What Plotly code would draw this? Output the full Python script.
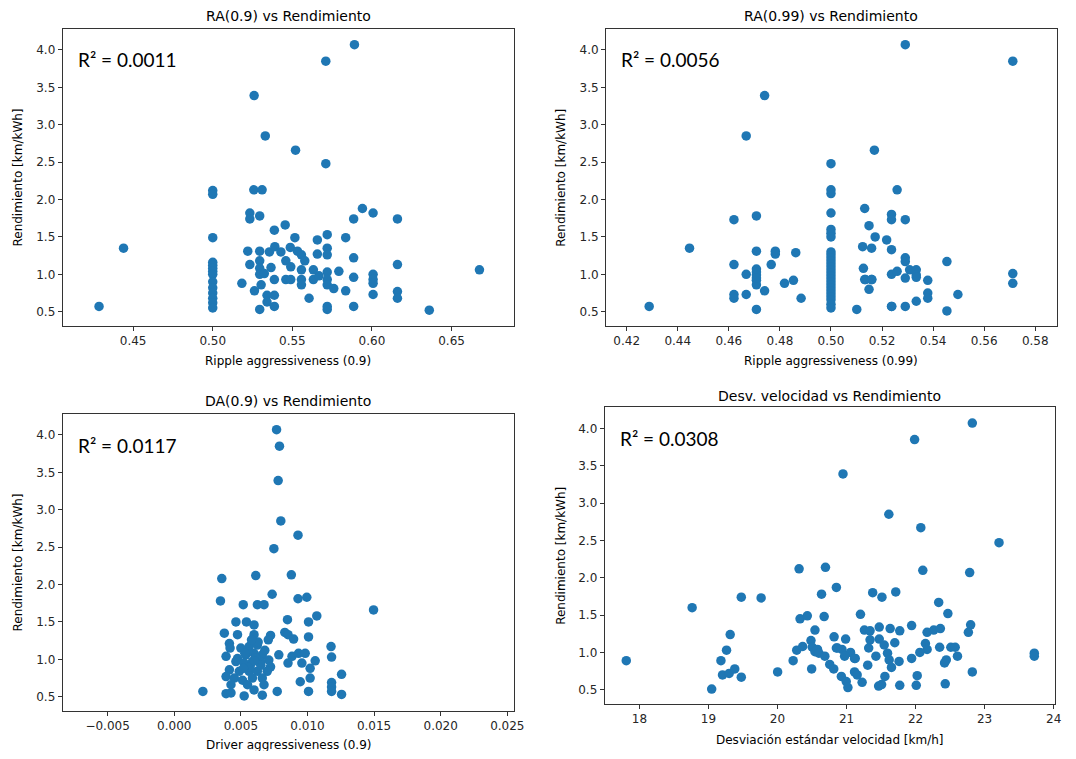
import plotly.graph_objects as go

PAGE_W, PAGE_H = 1076, 759
OFF = 8  # default body margin of the html page
W, H = PAGE_W - 2 * OFF, PAGE_H - 2 * OFF

# ---------------- data ----------------
ra09_x = [0.4286, 0.444,
          0.50, 0.50, 0.50, 0.50, 0.50, 0.50, 0.50, 0.50, 0.50, 0.50, 0.50, 0.50, 0.50, 0.50,
          0.589, 0.571, 0.526, 0.533, 0.552, 0.571, 0.6675, 0.636,
          0.5258, 0.531, 0.594, 0.6007, 0.5885, 0.616, 0.5233, 0.5233, 0.5295, 0.5387,
          0.5455, 0.5516, 0.5657, 0.5719, 0.5835, 0.522, 0.5295, 0.5356, 0.539, 0.5428,
          0.5487, 0.5532, 0.5557, 0.5657, 0.5719, 0.5719, 0.5885, 0.616, 0.5233, 0.5295,
          0.5295, 0.5366, 0.5459, 0.549, 0.5578, 0.5557, 0.5632, 0.5719, 0.5792, 0.5295,
          0.5324, 0.5387, 0.5459, 0.549, 0.5557, 0.5557, 0.5632, 0.5667, 0.5719, 0.5719,
          0.576, 0.5885, 0.6007, 0.6007, 0.6007, 0.5183, 0.5262, 0.5304, 0.5341, 0.5387,
          0.5341, 0.5387, 0.5295, 0.5605, 0.5719, 0.5719, 0.5835, 0.5885, 0.6007, 0.616,
          0.616]
ra09_y = [0.57, 1.35,
          2.12, 2.07, 1.49, 1.16, 1.12, 1.08, 1.04, 1.00, 0.90, 0.82, 0.75, 0.68, 0.62, 0.55,
          4.07, 3.85, 3.39, 2.85, 2.66, 2.48, 1.06, 0.52,
          2.13, 2.13, 1.88, 1.82, 1.74, 1.74, 1.82, 1.74, 1.78, 1.59,
          1.66, 1.49, 1.46, 1.53, 1.49, 1.31, 1.31, 1.30, 1.37, 1.30,
          1.36, 1.31, 1.26, 1.27, 1.35, 1.26, 1.22, 1.13, 1.13, 1.18,
          1.08, 1.09, 1.18, 1.10, 1.18, 1.06, 1.06, 1.03, 1.04, 1.00,
          1.01, 0.93, 0.93, 0.93, 0.93, 0.86, 0.93, 0.98, 0.93, 0.86,
          0.81, 0.96, 1.00, 0.93, 0.88, 0.88, 0.78, 0.86, 0.72, 0.72,
          0.63, 0.57, 0.53, 0.68, 0.57, 0.53, 0.78, 0.57, 0.73, 0.77,
          0.68]

ra099_x = [0.4288, 0.4446, 0.474, 0.4668, 0.462, 0.4708, 0.462, 0.4668, 0.4708, 0.4708,
           0.4708, 0.4708, 0.4708, 0.474, 0.4668, 0.462, 0.462, 0.4708, 0.4782, 0.4782,
           0.4766, 0.4818, 0.4853, 0.4862, 0.4883, 0.4708, 0.4708,
           0.50, 0.50, 0.50, 0.50, 0.50, 0.50, 0.50, 0.50, 0.50, 0.50, 0.50, 0.50, 0.50,
           0.50, 0.50, 0.50, 0.50, 0.50, 0.50, 0.50, 0.50, 0.50, 0.50, 0.50, 0.50, 0.50,
           0.5291, 0.5712, 0.517, 0.5259, 0.5132, 0.5149, 0.5173, 0.5237, 0.5237, 0.5291,
           0.5218, 0.5124, 0.5159, 0.5237, 0.5291, 0.5291, 0.5127, 0.5132, 0.5159, 0.5149,
           0.5237, 0.5259, 0.5308, 0.5334, 0.5334, 0.5334, 0.5291, 0.5379, 0.5379, 0.5379,
           0.5334, 0.5454, 0.5454, 0.5497, 0.5712, 0.5712, 0.5101, 0.5237, 0.5291, 0.5135,
           0.516, 0.5238]
ra099_y = [0.57, 1.35, 3.39, 2.85, 1.73, 1.78, 1.13, 1.00, 1.31, 1.07,
           0.99, 0.92, 0.86, 0.78, 0.73, 0.73, 0.68, 0.53, 1.31, 1.27,
           1.13, 0.88, 0.92, 1.29, 0.68, 1.03, 0.95,
           2.48, 2.13, 2.08, 1.82, 1.60, 1.55, 1.50, 1.30, 1.26, 1.22, 1.18, 1.14, 1.10,
           1.06, 1.02, 0.98, 0.94, 0.90, 0.86, 0.82, 0.78, 0.74, 0.70, 0.66, 0.60, 0.55,
           4.07, 3.85, 2.66, 2.13, 1.88, 1.65, 1.50, 1.80, 1.73, 1.73,
           1.46, 1.37, 1.35, 1.33, 1.22, 1.17, 1.08, 0.93, 0.93, 0.80,
           1.00, 1.04, 1.06, 1.06, 0.99, 0.96, 0.95, 0.92, 0.75, 0.68,
           0.64, 1.17, 0.51, 0.73, 1.01, 0.88, 0.53, 0.57, 0.57, 0.93,
           0.93, 0.57]

da09_x = [0.00768, 0.0079, 0.0078, 0.0080, 0.00929, 0.01496,
          0.00748, 0.00357, 0.00612, 0.00879, 0.00347, 0.00518, 0.00624, 0.00674, 0.00735,
          0.00929, 0.00995, 0.0107, 0.0085, 0.01008, 0.00463, 0.00542, 0.00599, 0.00376,
          0.00475, 0.00599, 0.00723, 0.00706, 0.0083, 0.00854, 0.00896, 0.01008, 0.00414,
          0.00419, 0.0050, 0.00562, 0.00624, 0.01177, 0.00389, 0.00475, 0.00537, 0.00599,
          0.00661, 0.0071, 0.00785, 0.00884, 0.00933, 0.00983, 0.01181, 0.00463, 0.00525,
          0.00587, 0.00649, 0.00723, 0.00854, 0.00958, 0.01058, 0.0102, 0.00414, 0.00488,
          0.00562, 0.00624, 0.00698, 0.01256, 0.00389, 0.00451, 0.00513, 0.00587, 0.00661,
          0.00946, 0.0102, 0.01181, 0.00426, 0.0055, 0.00674, 0.01181, 0.00215, 0.00389,
          0.00426, 0.00525, 0.00599, 0.00661, 0.00773, 0.01008, 0.01181, 0.01256,
          0.0055, 0.0061, 0.0057, 0.0065, 0.0060, 0.0053, 0.0068, 0.0063, 0.0058, 0.0052]
da09_y = [4.07, 3.85, 3.39, 2.85, 2.66, 1.66,
          2.48, 2.08, 2.12, 2.13, 1.78, 1.73, 1.73, 1.73, 1.87,
          1.81, 1.83, 1.58, 1.53, 1.50, 1.50, 1.50, 1.46, 1.35,
          1.33, 1.33, 1.32, 1.26, 1.36, 1.33, 1.27, 1.30, 1.21,
          1.15, 1.15, 1.17, 1.19, 1.17, 1.04, 1.01, 1.06, 1.08,
          1.06, 0.99, 1.06, 1.04, 1.08, 1.08, 1.03, 0.97, 0.95,
          0.97, 0.97, 0.90, 0.95, 0.95, 0.98, 0.88, 0.86, 0.84,
          0.84, 0.84, 0.84, 0.80, 0.77, 0.75, 0.72, 0.75, 0.75,
          0.70, 0.75, 0.69, 0.66, 0.66, 0.66, 0.63, 0.57, 0.54,
          0.55, 0.51, 0.59, 0.52, 0.57, 0.57, 0.57, 0.53,
          1.10, 1.02, 0.90, 0.92, 0.98, 1.08, 1.12, 1.23, 1.26, 0.88]

desv_x = [17.81, 18.764, 19.047, 19.181, 19.262, 19.315, 19.204, 19.30, 19.381, 19.476,
          19.476, 19.763, 20.002, 20.313, 20.227, 20.279, 20.327, 20.432, 20.365, 20.543,
          20.485, 20.504, 20.543, 20.495, 20.58, 20.60,
          22.822, 21.986, 20.949, 21.613, 22.076, 23.209, 22.105, 22.784, 20.695, 20.853,
          21.379, 21.513, 21.713, 20.638, 22.335, 22.468, 21.202, 20.676, 21.943, 22.798,
          22.765, 21.259, 21.341, 21.474, 21.632, 21.771, 22.167, 22.263, 22.359, 20.82,
          20.987, 21.341, 21.474, 21.699, 22.143, 20.853, 20.934, 21.321, 21.546, 22.167,
          22.349, 22.511, 22.574, 21.058, 20.972, 20.686, 21.116, 21.426, 21.594, 21.618,
          21.761, 21.943, 22.062, 22.607, 23.72, 23.72, 20.757, 20.815, 21.307, 21.651,
          22.42, 22.445, 21.116, 21.154, 20.925, 21.226, 20.996, 21.02, 21.465, 21.508,
          21.556, 21.771, 22.01, 22.024, 22.43, 22.822, 20.868, 21.126]
desv_y = [0.89, 1.60, 0.51, 0.89, 1.03, 1.24, 0.70, 0.72, 0.78, 0.67,
          1.74, 1.73, 0.74, 2.12, 0.89, 1.03, 1.45, 1.49, 1.08, 1.30,
          1.16, 1.07, 1.01, 0.78, 1.04, 0.99,
          4.07, 3.85, 3.39, 2.85, 2.67, 2.47, 2.10, 2.07, 2.14, 1.87,
          1.80, 1.74, 1.81, 1.78, 1.67, 1.52, 1.51, 1.48, 1.36, 1.37,
          1.27, 1.30, 1.29, 1.34, 1.32, 1.29, 1.27, 1.30, 1.32, 1.21,
          1.18, 1.17, 1.18, 1.13, 1.12, 1.06, 1.04, 1.06, 1.10, 1.04,
          1.07, 1.07, 1.07, 1.00, 0.95, 0.95, 0.92, 0.95, 0.99, 0.90,
          0.88, 0.92, 1.00, 0.95, 0.99, 0.95, 0.84, 0.78, 0.83, 0.80,
          0.86, 0.90, 0.74, 0.70, 0.68, 0.60, 0.61, 0.53, 0.55, 0.57,
          0.68, 0.56, 0.56, 0.69, 0.58, 0.74, 1.06, 0.92]

r2_labels = ["R² = 0.0011", "R² = 0.0056", "R² = 0.0117", "R² = 0.0308"]
titles = ["RA(0.9) vs Rendimiento", "RA(0.99) vs Rendimiento",
          "DA(0.9) vs Rendimiento", "Desv. velocidad vs Rendimiento"]
xlabels = ["Ripple aggressiveness (0.9)", "Ripple aggressiveness (0.99)",
           "Driver aggressiveness (0.9)", "Desviación estándar velocidad [km/h]"]
ylabel = "Rendimiento [km/kWh]"

xticks = [[0.45, 0.50, 0.55, 0.60, 0.65],
          [0.42, 0.44, 0.46, 0.48, 0.50, 0.52, 0.54, 0.56, 0.58],
          [-0.005, 0.000, 0.005, 0.010, 0.015, 0.020, 0.025],
          [18, 19, 20, 21, 22, 23, 24]]
xtickfmt = [".2f", ".2f", ".3f", "d"]
yticks = [0.5, 1.0, 1.5, 2.0, 2.5, 3.0, 3.5, 4.0]

# ---------------- layout (page pixel boxes) ----------------
boxes = [  # left, right, top, bottom in page pixels
    (63.3, 519.0, 29.0, 325.7),
    (612.3, 1067.7, 29.0, 325.7),
    (63.3, 519.0, 414.0, 710.7),
    (611.0, 1066.0, 407.4, 703.8),
]
xlabel_y = [361, 361, 745, 740]
title_y = [16, 16, 401, 396]
xranges = [[0.4058, 0.689], [0.4119, 0.5884], [-0.00837, 0.02548], [17.498, 24.02]]
yrange = [0.313, 4.28]


def px(x):
    return (x - OFF) / W


def py(y):
    return 1 - (y - OFF) / H


xs = [ra09_x, ra099_x, da09_x, desv_x]
ys = [ra09_y, ra099_y, da09_y, desv_y]

fig = go.Figure()
annotations = []
tickfont = dict(family="DejaVu Sans", size=12, color="#262626")
for i in range(4):
    sfx = "" if i == 0 else str(i + 1)
    fig.add_trace(go.Scatter(
        x=xs[i], y=ys[i], mode="markers",
        marker=dict(color="#1f77b4", size=9.5, line=dict(width=0)),
        xaxis="x" + sfx, yaxis="y" + sfx, showlegend=False, hoverinfo="skip"))
    l, r, t, b = boxes[i]
    axcommon = dict(showline=True, linecolor="#333333", linewidth=1, mirror=True,
                    ticks="outside", ticklen=4, tickcolor="#333333", tickwidth=1,
                    showgrid=False, zeroline=False, tickfont=tickfont)
    fig.update_layout(**{
        "xaxis" + sfx: dict(domain=[px(l), px(r)], range=xranges[i], anchor="y" + sfx,
                            tickvals=xticks[i], tickformat=xtickfmt[i], **axcommon),
        "yaxis" + sfx: dict(domain=[py(b), py(t)], range=yrange, anchor="x" + sfx,
                            tickvals=yticks, tickformat=".1f", **axcommon),
    })
    cx = (l + r) / 2
    annotations.append(dict(text=titles[i], x=px(cx), y=py(title_y[i]), xref="paper", yref="paper",
                            xanchor="center", yanchor="middle", showarrow=False,
                            font=dict(family="DejaVu Sans", size=14, color="#000000")))
    annotations.append(dict(text=xlabels[i], x=px(cx), y=py(xlabel_y[i]), xref="paper", yref="paper",
                            xanchor="center", yanchor="middle", showarrow=False,
                            font=dict(family="DejaVu Sans", size=12, color="#000000")))
    annotations.append(dict(text=ylabel, x=px(l - 45), y=py((t + b) / 2), xref="paper", yref="paper",
                            xanchor="center", yanchor="middle", showarrow=False, textangle=-90,
                            font=dict(family="DejaVu Sans", size=12, color="#000000")))
    annotations.append(dict(text=r2_labels[i], x=px(l + 13), y=py(t + 31), xref="paper", yref="paper",
                            xanchor="left", yanchor="middle", showarrow=False,
                            font=dict(family="Lato", size=19, color="#000000")))

fig.update_layout(width=W, height=H, margin=dict(l=0, r=0, t=0, b=0),
                  paper_bgcolor="white", plot_bgcolor="white",
                  annotations=annotations)

fig.write_html("out.html")
